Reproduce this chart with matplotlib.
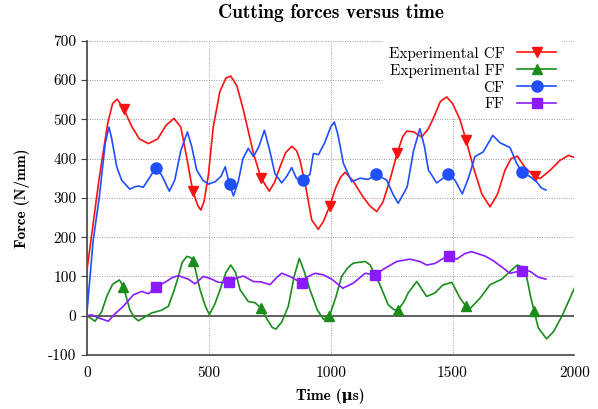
import numpy as np
import matplotlib
matplotlib.use("Agg")
import matplotlib.pyplot as plt

# ==============================
# Dados
# ==============================
exp_cf_t = [0, 50, 85, 105, 124, 150, 185, 215, 252, 290, 325, 357, 385, 410, 434, 455, 467,
            480, 498, 518, 545, 570, 590, 615, 642, 683, 714, 748, 770, 792, 815, 840, 860,
            874, 900, 922, 949, 970, 996, 1020, 1040, 1059, 1090, 1130, 1160, 1189, 1215, 1245,
            1273, 1295, 1312, 1340, 1373, 1400, 1421, 1450, 1476, 1500, 1530, 1555, 1585, 1620,
            1654, 1685, 1715, 1740, 1766, 1800, 1838, 1859, 1900, 1940, 1975, 2000]
exp_cf_v = [117, 350, 490, 540, 551, 527, 480, 450, 438, 450, 485, 502, 480, 400, 317, 280, 269,
            290, 358, 480, 570, 605, 610, 585, 523, 413, 351, 317, 340, 379, 415, 431, 420,
            396, 320, 244, 220, 240, 279, 325, 352, 365, 345, 305, 280, 265, 290, 350,
            414, 455, 470, 468, 455, 475, 502, 545, 557, 540, 500, 448, 379, 310,
            277, 310, 370, 400, 406, 375, 355, 349, 370, 395, 408, 403]
exp_cf_mark = [150, 434, 714, 996, 1273, 1555, 1838]

exp_ff_t = [0, 33, 60, 81, 105, 133, 149, 176, 195, 211, 240, 265, 306, 334, 355, 375, 390, 409,
            425, 436, 464, 485, 502, 525, 546, 570, 590, 610, 628, 662, 690, 713, 740, 760, 776,
            800, 826, 850, 871, 890, 915, 945, 970, 995, 1020, 1045, 1070, 1093, 1141, 1161,
            1199, 1236, 1260, 1277, 1300, 1318, 1353, 1394, 1428, 1460, 1497, 1531, 1555, 1572,
            1613, 1654, 1702, 1740, 1766, 1797, 1820, 1835, 1852, 1886, 1915, 1948, 1975, 2000]
exp_ff_v = [0, -14, 10, 49, 80, 91, 74, 15, -5, -13, -2, 7, 14, 24, 60, 100, 135, 151,
            148, 140, 66, 25, 3, 30, 66, 110, 129, 110, 66, 36, 33, 20, -10, -30, -34,
            -15, 24, 100, 146, 115, 66, 15, -9, 0, 45, 100, 122, 134, 138, 130,
            83, 28, 15, 15, 35, 58, 87, 49, 58, 78, 85, 45, 24, 18,
            45, 79, 93, 115, 129, 121, 50, 11, -31, -59, -40, -2, 35, 70]
exp_ff_mark = [149, 436, 713, 995, 1277, 1555, 1835]

cf_t = [0, 25, 50, 75, 90, 100, 122, 142, 176, 195, 211, 231, 255, 283, 306, 338, 360, 385,
        412, 430, 450, 475, 498, 526, 550, 567, 585, 601, 620, 640, 662, 683, 705, 728, 750,
        771, 799, 820, 840, 860, 885, 915, 929, 950, 975, 1000, 1015, 1030, 1052, 1086, 1120,
        1154, 1186, 1230, 1255, 1277, 1314, 1340, 1366, 1385, 1401, 1435, 1483, 1510, 1540,
        1565, 1592, 1626, 1665, 1695, 1736, 1763, 1784, 1818, 1845, 1865, 1883]
cf_v = [10, 190, 300, 440, 480, 455, 379, 345, 322, 328, 330, 327, 350, 377, 358, 317, 345, 420,
        468, 430, 371, 345, 335, 341, 355, 379, 334, 305, 340, 400, 426, 405, 430, 472, 420,
        362, 338, 355, 377, 349, 345, 360, 413, 410, 440, 480, 493, 460, 388, 341, 350,
        347, 360, 345, 310, 286, 328, 420, 476, 430, 371, 338, 360, 345, 310,
        350, 405, 417, 459, 440, 428, 388, 366, 354, 341, 325, 320]
cf_mark = [283, 585, 885, 1186, 1483, 1784]

ff_t = [0, 20, 45, 87, 115, 149, 190, 224, 252, 283, 320, 350, 375, 416, 443, 477, 505, 539,
        584, 614, 642, 683, 715, 751, 780, 799, 833, 881, 901, 936, 970, 1004, 1050, 1093,
        1141, 1182, 1223, 1271, 1325, 1366, 1394, 1428, 1462, 1485, 1517, 1550, 1578, 1633,
        1667, 1702, 1736, 1784, 1818, 1852, 1883]
ff_v = [0, 2, -5, -14, 5, 24, 53, 62, 56, 73, 85, 97, 102, 93, 81, 100, 95, 85,
        85, 96, 101, 87, 86, 79, 98, 108, 100, 83, 98, 108, 104, 93, 70, 83,
        108, 104, 121, 138, 144, 138, 129, 133, 146, 152, 144, 158, 163, 152,
        140, 124, 108, 115, 113, 98, 93]
ff_mark = [283, 584, 881, 1182, 1485, 1784]

x_ticks = [0, 500, 1000, 1500, 2000]
y_ticks = [-100, 0, 100, 200, 300, 400, 500, 600, 700]

# ==============================
# Estilo
# ==============================
plt.rcParams["font.family"] = ["cmr10", "DejaVu Serif"]
plt.rcParams["axes.unicode_minus"] = False
bold = ["cmb10", "DejaVu Serif"]


def marcas(t, mt):
    return [t.index(m) for m in mt]


fig = plt.figure(figsize=(5.98, 4.09), dpi=100)
ax = fig.add_axes([0.1455, 0.132, 0.815, 0.7685])

series = [
    (exp_cf_t, exp_cf_v, exp_cf_mark, "#ff1010", "v", 7, "Experimental CF"),
    (exp_ff_t, exp_ff_v, exp_ff_mark, "#1a8c1a", "^", 7, "Experimental FF"),
    (cf_t, cf_v, cf_mark, "#1f4fff", "o", 8, "CF"),
    (ff_t, ff_v, ff_mark, "#8a1aff", "s", 7, "FF"),
]
for t, v, mt, cor, mk, ms, nome in series:
    ax.plot(t, v, color=cor, lw=1.2, marker=mk, ms=ms, markevery=marcas(t, mt),
            label=nome, zorder=3)

ax.axhline(0, color="#555555", lw=1.3, zorder=2)

ax.set_xlim(0, 2000)
ax.set_ylim(-100, 700)
ax.set_xticks(x_ticks)
ax.set_xticklabels([str(x) for x in x_ticks])
ax.set_yticks(y_ticks)
ax.set_yticklabels([str(y) for y in y_ticks])
ax.tick_params(labelsize=11, direction="out", length=4, color="#444444")
ax.tick_params(axis="x", length=0, pad=8)
ax.grid(True, linestyle=(0, (1, 1.5)), color="#999999", lw=0.7)

for s in ["top", "right"]:
    ax.spines[s].set_visible(False)
for s in ["left", "bottom"]:
    ax.spines[s].set_color("#444444")
    ax.spines[s].set_linewidth(1.2)

ax.set_xlabel("Time (\u03bcs)", fontsize=11, fontweight="bold", family=bold, labelpad=6)
ax.set_ylabel("Force (N/mm)", fontsize=11, fontweight="bold", family=bold, labelpad=13)
ax.set_title("Cutting forces versus time", fontsize=14, fontweight="bold",
             family=bold, pad=16)

leg = ax.legend(loc="upper right", fontsize=11, markerfirst=False, frameon=True,
                fancybox=False, edgecolor="none", facecolor="white", framealpha=1,
                handlelength=2.6, labelspacing=0.2, borderaxespad=0.3,
                bbox_to_anchor=(0.985, 1.015))
leg.set_zorder(2.5)
leg._legend_box.align = "right"

fig.savefig("out.png", dpi=100)
